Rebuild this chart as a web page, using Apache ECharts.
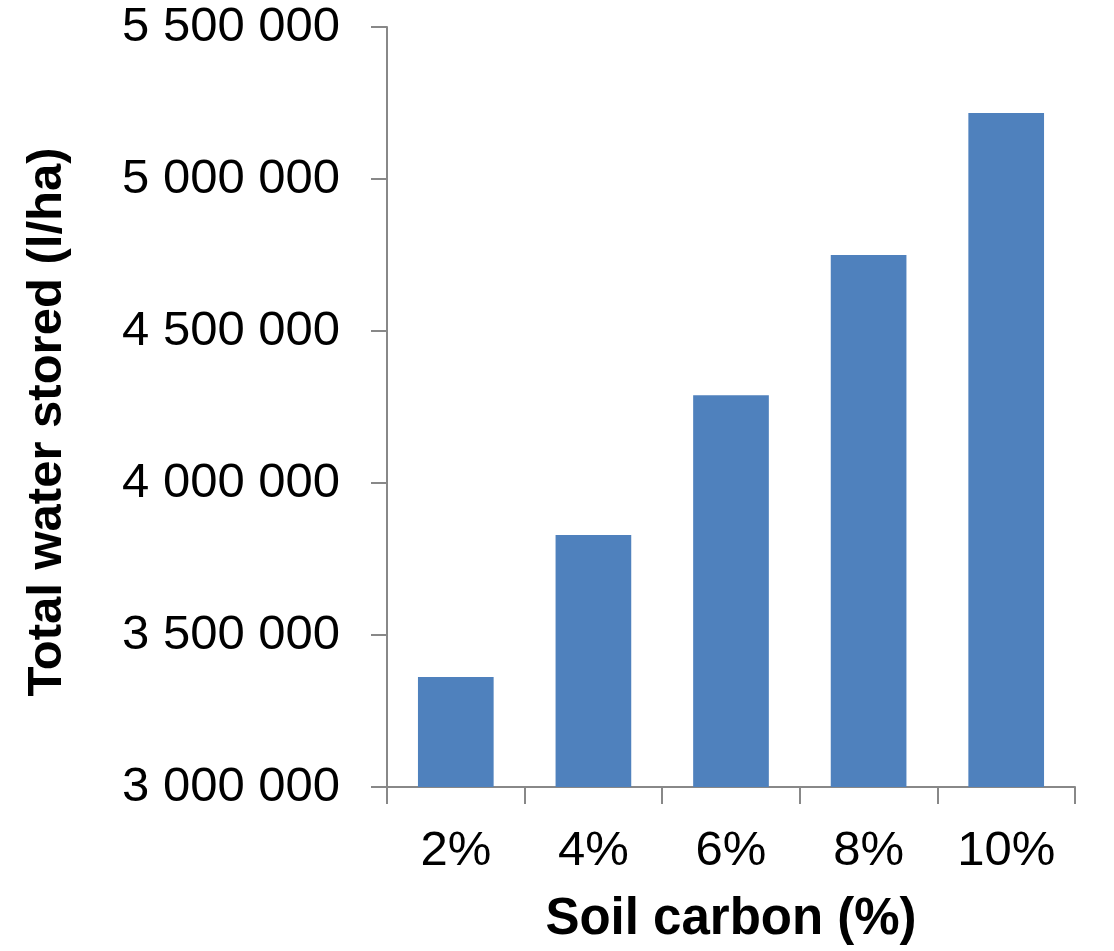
<!DOCTYPE html>
<html>
<head>
<meta charset="utf-8">
<script src="https://cdn.jsdelivr.net/npm/echarts@6/dist/echarts.min.js"></script>
<style>html,body{margin:0;padding:0;background:#fff;}#chart{width:1114px;height:951px;}</style>
</head>
<body>
<div id="chart"></div>
<script>
const categories = ['2%', '4%', '6%', '8%', '10%'];
const waterStored = [3362000, 3829000, 4289000, 4750000, 5217000];
const yTicks = [3000000, 3500000, 4000000, 4500000, 5000000, 5500000];
const xTitle = 'Soil carbon (%)';
const yTitle = 'Total water stored (l/ha)';

function fmt(v) {
  return String(Math.round(v)).replace(/\B(?=(\d{3})+(?!\d))/g, ' ');
}

const chart = echarts.init(document.getElementById('chart'));
chart.setOption({
  backgroundColor: '#ffffff',
  animation: false,
  grid: { left: 387, right: 39, top: 27, bottom: 164, containLabel: false },
  xAxis: {
    type: 'category',
    data: categories,
    name: xTitle,
    nameLocation: 'middle',
    nameGap: 107,
    nameTextStyle: { fontFamily: 'Liberation Sans, Arial, sans-serif', fontWeight: 'bold', fontSize: 51, color: '#000' },
    axisLine: { lineStyle: { color: '#888888', width: 2 } },
    axisTick: { show: true, length: 17, lineStyle: { color: '#888888', width: 2 } },
    axisLabel: { fontFamily: 'Liberation Sans, Arial, sans-serif', fontSize: 49, color: '#000', margin: 40 },
    splitLine: { show: false }
  },
  yAxis: {
    type: 'value',
    min: yTicks[0],
    max: yTicks[yTicks.length - 1],
    interval: yTicks[1] - yTicks[0],
    name: yTitle,
    nameLocation: 'middle',
    nameGap: 315,
    nameRotate: 90,
    nameTextStyle: { fontFamily: 'Liberation Sans, Arial, sans-serif', fontWeight: 'bold', fontSize: 49, color: '#000', padding: [0, 30, 0, 0] },
    axisLine: { show: true, lineStyle: { color: '#888888', width: 2 } },
    axisTick: { show: true, length: 16, lineStyle: { color: '#888888', width: 2 } },
    axisLabel: { fontFamily: 'Liberation Sans, Arial, sans-serif', fontSize: 49, color: '#000', margin: 47, formatter: fmt },
    splitLine: { show: false }
  },
  series: [{
    type: 'bar',
    data: waterStored,
    barCategoryGap: '45%',
    itemStyle: { color: '#4F81BD' }
  }]
});
</script>
</body>
</html>
